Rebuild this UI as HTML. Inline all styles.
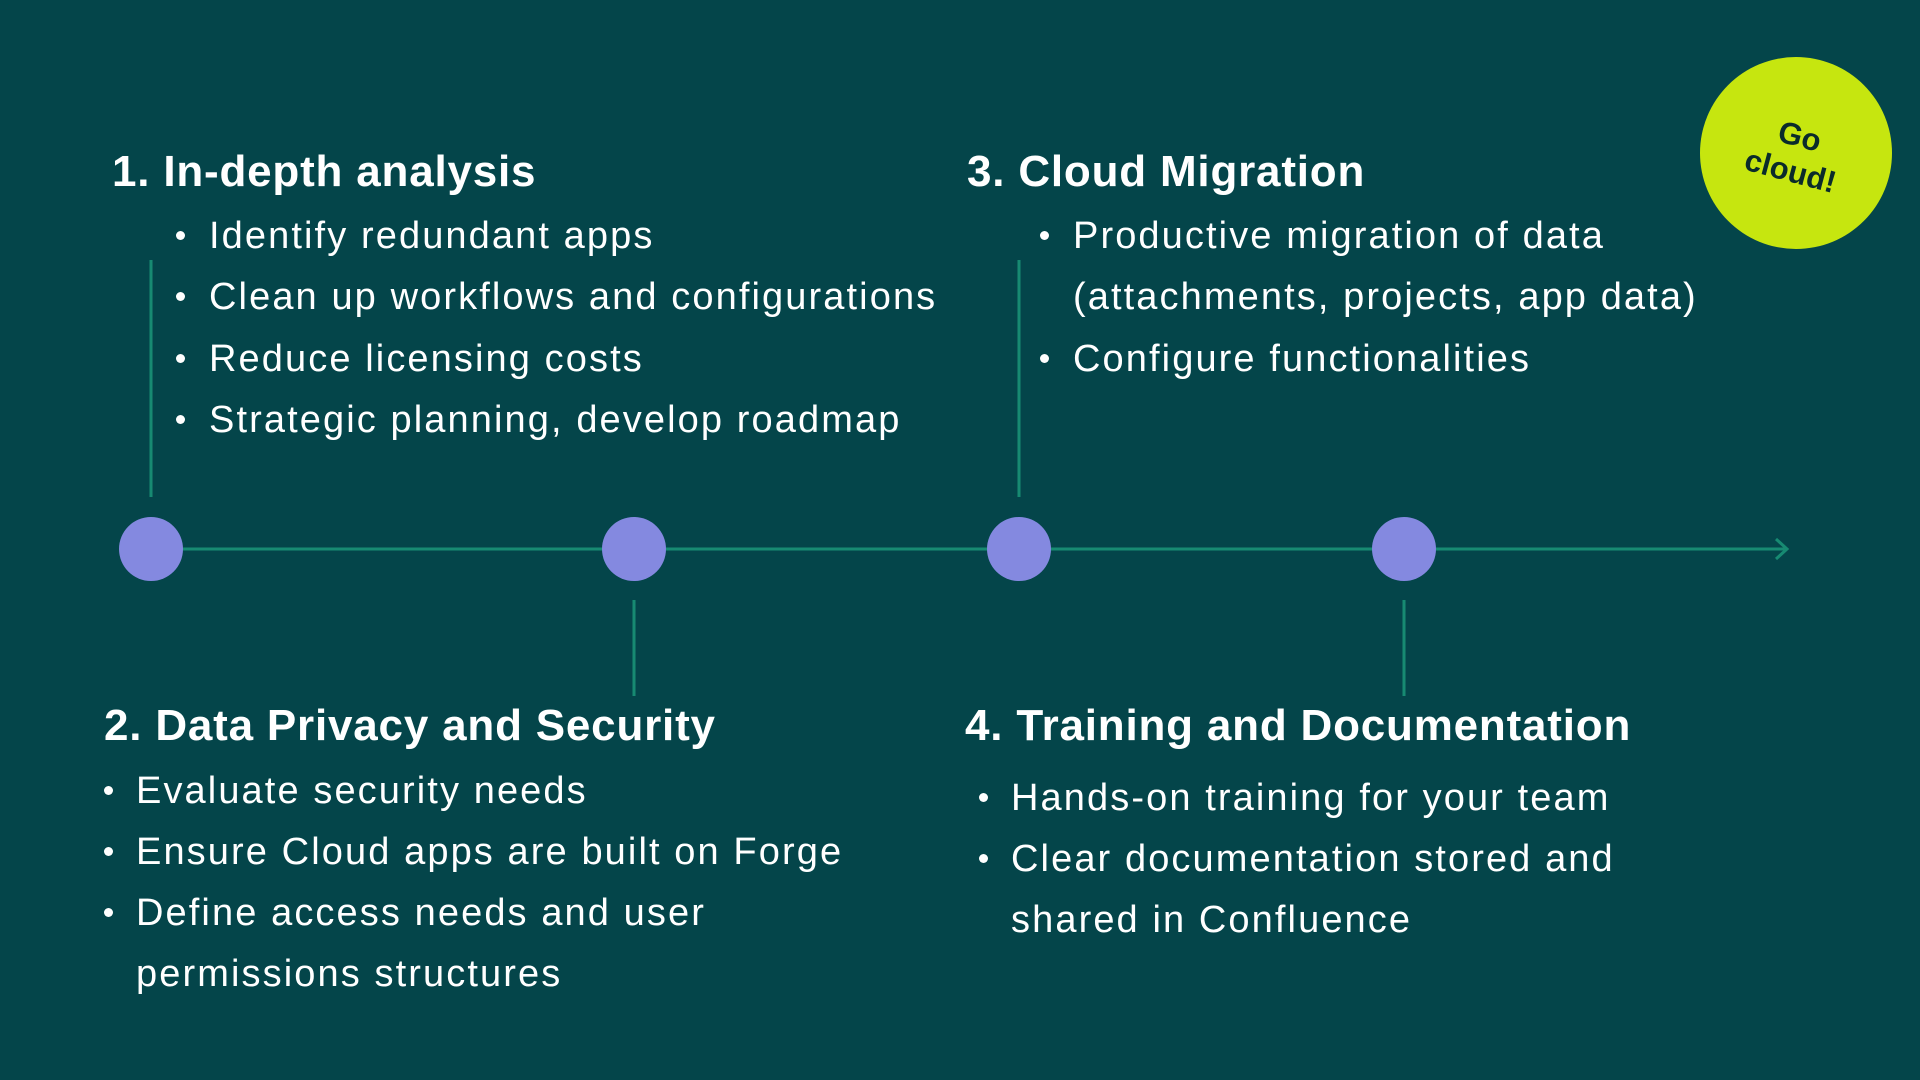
<!DOCTYPE html>
<html><head><meta charset="utf-8"><style>
html,body{margin:0;padding:0}
body{width:1920px;height:1080px;background:#04454a;position:relative;overflow:hidden;font-family:"Liberation Sans",sans-serif;color:#fff}
.t{position:absolute;font-weight:bold;font-size:44px;line-height:50px;white-space:nowrap;letter-spacing:0.8px}
.b{position:absolute;font-size:38px;line-height:40px;white-space:nowrap;letter-spacing:2.1px}
.d{position:absolute;width:9px;height:9px;border-radius:50%;background:#fff}
</style></head><body>
<svg width="1920" height="1080" style="position:absolute;left:0;top:0">
<g stroke="#178a72" stroke-width="3" fill="none">
<line x1="151" y1="549" x2="1786" y2="549"/>
<polyline points="1776,539 1787,549 1776,559"/>
<line x1="151" y1="260" x2="151" y2="497"/>
<line x1="1019" y1="260" x2="1019" y2="497"/>
<line x1="634" y1="600" x2="634" y2="696"/>
<line x1="1404" y1="600" x2="1404" y2="696"/>
</g>
<g fill="#8489e0">
<circle cx="151" cy="549" r="32"/><circle cx="634" cy="549" r="32"/>
<circle cx="1019" cy="549" r="32"/><circle cx="1404" cy="549" r="32"/>
</g>
<circle cx="1796" cy="153" r="96" fill="#c6e60f"/>
<g transform="translate(1794,158) rotate(15)" font-family="Liberation Sans,sans-serif" font-weight="bold" font-size="31" fill="#0a2b2b" text-anchor="middle">
<text x="0" y="-12">Go</text><text x="0" y="24">cloud!</text>
</g>
</svg>
<div class="t" style="left:112px;top:147px">1. In-depth analysis</div>
<div class="d" style="left:176px;top:231px"></div><div class="b" style="left:209px;top:216px">Identify redundant apps</div>
<div class="d" style="left:176px;top:292px"></div><div class="b" style="left:209px;top:277px">Clean up workflows and configurations</div>
<div class="d" style="left:176px;top:354px"></div><div class="b" style="left:209px;top:339px">Reduce licensing costs</div>
<div class="d" style="left:176px;top:415px"></div><div class="b" style="left:209px;top:400px">Strategic planning, develop roadmap</div>

<div class="t" style="left:967px;top:147px">3. Cloud Migration</div>
<div class="d" style="left:1040px;top:231px"></div><div class="b" style="left:1073px;top:216px">Productive migration of data</div>
<div class="b" style="left:1073px;top:277px">(attachments, projects, app data)</div>
<div class="d" style="left:1040px;top:354px"></div><div class="b" style="left:1073px;top:339px">Configure functionalities</div>

<div class="t" style="left:104px;top:701px">2. Data Privacy and Security</div>
<div class="d" style="left:104px;top:786px"></div><div class="b" style="left:136px;top:771px">Evaluate security needs</div>
<div class="d" style="left:104px;top:847px"></div><div class="b" style="left:136px;top:832px">Ensure Cloud apps are built on Forge</div>
<div class="d" style="left:104px;top:908px"></div><div class="b" style="left:136px;top:893px">Define access needs and user</div>
<div class="b" style="left:136px;top:954px">permissions structures</div>

<div class="t" style="left:965px;top:701px">4. Training and Documentation</div>
<div class="d" style="left:979px;top:793px"></div><div class="b" style="left:1011px;top:778px">Hands-on training for your team</div>
<div class="d" style="left:979px;top:854px"></div><div class="b" style="left:1011px;top:839px">Clear documentation stored and</div>
<div class="b" style="left:1011px;top:900px">shared in Confluence</div>
</body></html>
